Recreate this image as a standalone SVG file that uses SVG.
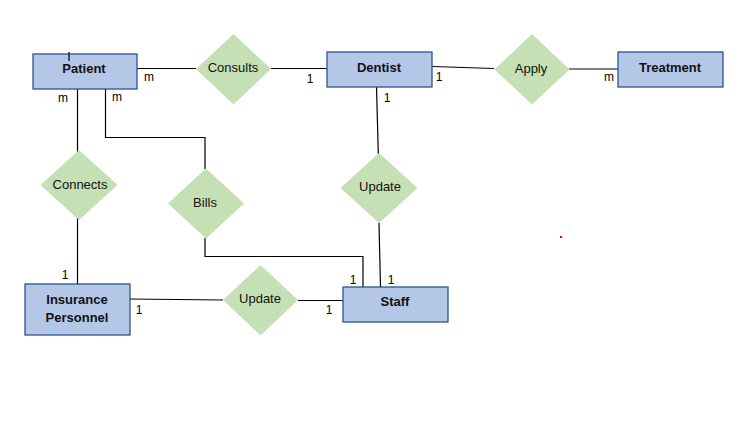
<svg xmlns="http://www.w3.org/2000/svg" width="748" height="425" viewBox="0 0 748 425">
<style>
.ent{fill:#B4C7E7;stroke:#2F528F;stroke-width:1.3}
.rel{fill:#C5E0B4;stroke:none}
.et{font-family:"Liberation Sans",Arial,sans-serif;font-size:13px;font-weight:bold;fill:#111;text-anchor:middle;dominant-baseline:central}
.rt{font-family:"Liberation Sans",Arial,sans-serif;font-size:13px;fill:#111;text-anchor:middle;dominant-baseline:central}
.lb{font-family:"Liberation Sans",Arial,sans-serif;font-size:12px;fill:#000;text-anchor:middle;dominant-baseline:central}
.ln{stroke:#000;stroke-width:1.2;fill:none}
</style>
<rect width="748" height="425" fill="#fff"/>
<g id="connectors">
<path class="ln" d="M137 68.5H196"/>
<path class="ln" d="M271 68.5H327"/>
<path class="ln" d="M432 66.5L494 68.5"/>
<path class="ln" d="M569 69H620"/>
<path class="ln" d="M77.5 89V152"/>
<path class="ln" d="M77.5 216V284"/>
<path class="ln" d="M105.5 89V137.5H205V169"/>
<path class="ln" d="M205 238V256.5H363V287"/>
<path class="ln" d="M376.5 87L378.3 154"/>
<path class="ln" d="M379 223L380.5 287"/>
<path class="ln" d="M130 299L223 300"/>
<path class="ln" d="M298 300.5H343"/>
<text class="lb" x="149" y="77">m</text>
<text class="lb" x="310" y="79">1</text>
<text class="lb" x="63" y="98">m</text>
<text class="lb" x="117" y="97">m</text>
<text class="lb" x="387" y="98">1</text>
<text class="lb" x="439" y="77">1</text>
<text class="lb" x="609" y="77">m</text>
<text class="lb" x="65" y="275">1</text>
<text class="lb" x="139" y="310">1</text>
<text class="lb" x="329" y="310">1</text>
<text class="lb" x="353" y="280">1</text>
<text class="lb" x="391" y="280">1</text>
</g>
<g id="patient"><rect class="ent" x="33" y="54" width="104" height="35"/><path class="ln" d="M69 52V61"/><text class="et" x="84" y="68">Patient</text></g>
<g id="dentist"><rect class="ent" x="327" y="52" width="105" height="35"/><text class="et" x="379" y="67">Dentist</text></g>
<g id="treatment"><rect class="ent" x="618" y="52" width="105" height="35"/><text class="et" x="670" y="67">Treatment</text></g>
<g id="insurance"><rect class="ent" x="25" y="284" width="105" height="51"/><text class="et" x="77" y="299">Insurance</text><text class="et" x="77" y="317">Personnel</text></g>
<g id="staff"><rect class="ent" x="343" y="287" width="105" height="35"/><text class="et" x="395" y="301">Staff</text></g>
<g id="consults"><polygon class="rel" points="233.5,34 271,69 233.5,104.5 196,69"/><text class="rt" x="233" y="67">Consults</text></g>
<g id="apply"><polygon class="rel" points="532,34 569.5,69.5 532,104.5 494.5,69.5"/><text class="rt" x="531" y="68">Apply</text></g>
<g id="connects"><polygon class="rel" points="79,150 117.5,185 79,220 40.5,185"/><text class="rt" x="80" y="184">Connects</text></g>
<g id="bills"><polygon class="rel" points="206,168.5 244,203.5 206,238.5 168,203.5"/><text class="rt" x="205" y="202">Bills</text></g>
<g id="update1"><polygon class="rel" points="379,153 417.5,188 379,223 340.5,188"/><text class="rt" x="380" y="186">Update</text></g>
<g id="update2"><polygon class="rel" points="260.5,265 298,300 260.5,335.5 223,300"/><text class="rt" x="260" y="298">Update</text></g>
<rect x="560" y="236" width="2" height="2" fill="#f00"/>
</svg>
